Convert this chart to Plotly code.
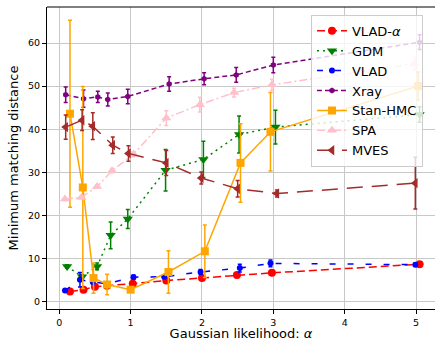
import plotly.graph_objects as go

# ---- data ----
vlad_a_x = [0.15, 0.34, 0.50, 0.67, 1.03, 1.50, 2.00, 2.49, 2.98, 5.05]
vlad_a_y = [2.4, 2.8, 3.5, 3.7, 4.2, 4.9, 5.5, 6.2, 6.7, 8.7]
vlad_a_e = [0.2, 0.2, 0.2, 0.2, 0.2, 0.2, 0.2, 0.2, 0.2, 0.2]

gdm_x = [0.11, 0.32, 0.53, 0.72, 0.96, 1.49, 2.02, 2.52, 3.03, 5.05]
gdm_y = [8.2, 5.8, 8.2, 15.4, 19.2, 30.5, 33.0, 38.8, 40.5, 43.4]
gdm_e = [0.4, 0.5, 0.8, 3.1, 2.2, 4.8, 4.2, 4.3, 3.9, 1.8]

vlad_x = [0.08, 0.29, 0.47, 0.67, 1.04, 1.47, 1.98, 2.53, 2.96, 4.99]
vlad_y = [2.6, 5.1, 4.6, 4.2, 5.7, 5.8, 6.9, 7.8, 8.9, 8.6]
vlad_e = [0.3, 1.7, 0.5, 0.4, 0.5, 0.4, 0.6, 0.9, 0.8, 0.3]

xray_x = [0.09, 0.34, 0.54, 0.68, 0.96, 1.54, 2.03, 2.48, 3.00, 5.05]
xray_y = [48.0, 47.1, 47.5, 46.9, 47.6, 50.5, 51.7, 52.6, 54.9, 60.2]
xray_e = [1.8, 2.0, 1.3, 1.5, 1.7, 1.7, 1.4, 1.7, 1.8, 1.7]

stan_x = [0.15, 0.33, 0.48, 0.67, 1.00, 1.53, 2.04, 2.54, 2.96, 5.03]
stan_y = [43.6, 26.5, 5.5, 4.0, 2.8, 6.9, 11.7, 32.2, 39.4, 50.0]
stan_e = [21.7, 23.4, 3.5, 2.4, 0.3, 4.9, 6.1, 9.1, 9.1, 3.3]

spa_x = [0.08, 0.31, 0.53, 0.74, 1.04, 1.50, 1.97, 2.45, 2.98, 4.98]
spa_y = [23.8, 24.2, 26.7, 30.4, 34.2, 42.6, 45.7, 48.5, 50.3, 55.2]
spa_e = [0.3, 0.3, 0.4, 0.5, 0.6, 1.7, 1.7, 1.0, 1.3, 1.5]

mves_x = [0.09, 0.32, 0.47, 0.75, 0.97, 1.50, 1.99, 2.50, 3.05, 4.99]
mves_y = [40.5, 42.1, 40.7, 36.3, 34.4, 32.2, 28.7, 26.2, 25.1, 27.5]
mves_e = [2.8, 2.4, 3.1, 1.9, 1.8, 2.9, 1.4, 1.9, 0.8, 6.0]

x_ticks = [0, 1, 2, 3, 4, 5]
y_ticks = [0, 10, 20, 30, 40, 50, 60]

series = [
    ("VLAD-<i>α</i>", vlad_a_x, vlad_a_y, vlad_a_e, "red", "8px,4px", "circle", 8),
    ("GDM", gdm_x, gdm_y, gdm_e, "green", "2px,4px", "triangle-down", 9),
    ("VLAD", vlad_x, vlad_y, vlad_e, "blue", "6px,12px", "circle", 6),
    ("Xray", xray_x, xray_y, xray_e, "purple", "5px,3px", "hexagon", 6),
    ("Stan-HMC", stan_x, stan_y, stan_e, "orange", "solid", "square", 8),
    ("SPA", spa_x, spa_y, spa_e, "pink", "8px,3px,2px,3px", "triangle-up", 9),
    ("MVES", mves_x, mves_y, mves_e, "brown", "16px,9px", "triangle-left", 9),
]

fig = go.Figure()
for name, xs, ys, es, col, dash, sym, msz in series:
    fig.add_trace(go.Scatter(
        x=xs, y=ys, name=name, mode="lines+markers",
        line=dict(color=col, width=1.5, dash=dash),
        marker=dict(color=col, symbol=sym, size=msz, line=dict(width=0)),
        error_y=dict(type="data", array=es, visible=True, color=col,
                     thickness=1.5, width=2),
    ))

axis_common = dict(
    showgrid=True, gridcolor="#c8c8c8", gridwidth=1.2,
    zeroline=False, showline=True, linecolor="black", linewidth=1.2,
    ticks="outside", ticklen=4, tickwidth=1, tickcolor="black",
    tickfont=dict(family="DejaVu Sans", size=9.5, color="black"),
)

fig.update_layout(
    width=435, height=341,
    margin=dict(l=47, r=0, t=7, b=30),
    paper_bgcolor="white", plot_bgcolor="white",
    font=dict(family="DejaVu Sans", color="black"),
    xaxis=dict(range=[-0.172, 5.266], tickvals=x_ticks, mirror=False,
               title=dict(text="Gaussian likelihood: <i>α</i>",
                          font=dict(size=13), standoff=4),
               **axis_common),
    yaxis=dict(range=[-1.68, 68.35], tickvals=y_ticks,
               title=dict(text="Minimum matching distance",
                          font=dict(size=13), standoff=6),
               **axis_common),
    legend=dict(x=0.969, xanchor="right", y=0.974, yanchor="top",
                bgcolor="rgba(255,255,255,0.8)", bordercolor="#cccccc",
                borderwidth=1, font=dict(size=13, family="DejaVu Sans")),
    showlegend=True,
)
# top spine
fig.add_shape(type="line", xref="paper", yref="paper", x0=0, x1=1, y0=1, y1=1,
              line=dict(color="black", width=1.2))

fig.write_html("out.html")
